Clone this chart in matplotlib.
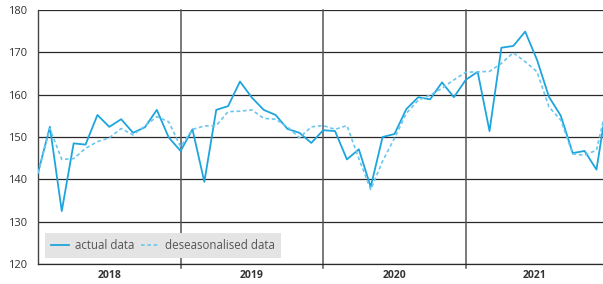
import matplotlib
matplotlib.use("Agg")
import matplotlib.pyplot as plt

# monthly values, Jan 2018 .. Jan 2022 (last point falls just past the right edge)
years = ["2018", "2019", "2020", "2021"]
actual = [141.5, 152.4, 132.5, 148.5, 148.2, 155.2, 152.4, 154.2, 151.0, 152.3, 156.4, 149.9,
          146.7, 151.8, 139.4, 156.4, 157.3, 163.1, 159.3, 156.4, 155.2, 151.9, 151.0, 148.6,
          151.6, 151.4, 144.7, 147.1, 138.2, 150.0, 150.7, 156.6, 159.4, 158.9, 162.9, 159.4,
          163.5, 165.4, 151.4, 171.1, 171.5, 174.9, 168.2, 159.5, 155.0, 146.2, 146.7, 142.3,
          160.0]
deseasonalised = [141.5, 152.0, 144.7, 144.9, 147.3, 148.9, 149.8, 152.0, 150.5, 152.6, 154.8, 153.6,
                  147.7, 151.8, 152.6, 152.7, 156.0, 156.1, 156.4, 154.4, 154.2, 152.4, 149.8, 152.4,
                  152.7, 151.8, 152.7, 144.9, 137.6, 144.3, 149.7, 155.6, 158.7, 159.9, 161.5, 163.5,
                  165.3, 165.4, 165.5, 167.4, 169.9, 167.8, 165.4, 157.1, 154.0, 146.0, 145.7, 146.9,
                  159.0]
months = list(range(len(actual)))

plt.rcParams['font.family'] = ['Open Sans', 'DejaVu Sans']

fig = plt.figure(figsize=(6.03, 2.84), dpi=100)
ax = fig.add_axes([38 / 603, 20 / 284, 565 / 603, 254 / 284])

blue = "#1ea5de"
light = "#6cc6ee"
ax.plot(months, actual, color=blue, lw=1.3, label="actual data", zorder=3)
ax.plot(months, deseasonalised, color=light, lw=1.2, ls=(0, (2.2, 1.6)),
        label="deseasonalised data", zorder=3)

ax.set_xlim(0, 47.55)
ax.set_ylim(120, 180)
ax.set_yticks(range(120, 181, 10))
ax.yaxis.grid(True, color="#2a2a2a", lw=0.9)
ax.set_axisbelow(True)
ax.tick_params(axis="y", length=0, labelsize=8, labelcolor="#333333", pad=8)
ax.set_xticks([])

for s in ["top", "right"]:
    ax.spines[s].set_visible(False)
ax.spines["left"].set_color("#444444")
ax.spines["bottom"].set_color("#2a2a2a")
ax.spines["left"].set_linewidth(1.0)
ax.spines["bottom"].set_linewidth(0.9)

# year dividers and labels
for i in range(1, len(years)):
    ax.axvline(12 * i, ymin=-0.015, ymax=1, color="#555555", lw=1.1, clip_on=False, zorder=1)
for i, yr in enumerate(years):
    mid = (12 * i + min(12 * (i + 1), 47.55)) / 2
    ax.text(mid, -0.022, yr, transform=ax.get_xaxis_transform(), ha="center", va="top",
            fontsize=7.5, fontweight="bold", color="#333333")

leg = ax.legend(loc="lower left", bbox_to_anchor=(0.012, 0.024), ncol=2, fontsize=8.3,
                frameon=True, fancybox=False, handlelength=1.6, handletextpad=0.5,
                columnspacing=0.6, borderpad=0.5, borderaxespad=0)
leg.get_frame().set_facecolor("#e4e4e4")
leg.get_frame().set_edgecolor("none")
leg.get_frame().set_alpha(1)
for t in leg.get_texts():
    t.set_color("#555555")

fig.savefig("out.png", dpi=100)
